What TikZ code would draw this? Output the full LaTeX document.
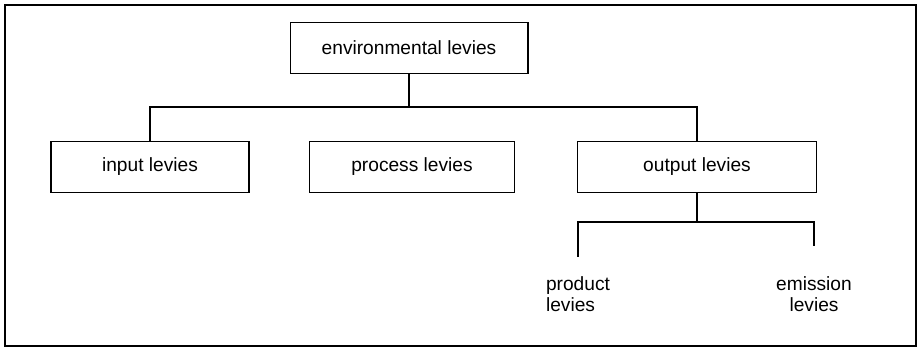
\documentclass[tikz,border=0pt]{standalone}
\usepackage{fontspec}
\setmainfont{Liberation Sans}
\usetikzlibrary{positioning}
\tikzset{
	levybox/.style = {rectangle, draw=black, line width=0.6pt, minimum height=1.03cm, text centered, font=\fontsize{10.9}{12}\selectfont},
	levytext/.style = {font=\fontsize{10.9}{12}\selectfont, inner sep=1pt},
	line/.style = {draw, line width=0.6pt}
}

\begin{document}
\begin{tikzpicture}[x=0.02cm, y=-0.02cm]
		\useasboundingbox (0,0) rectangle (919,348);
		\draw[line width=0.8pt] (5,5) rectangle (916,346);

		%boxes
		\node (env) [levybox, minimum width=4.76cm] at (409,48) {environmental levies};
		\node (input) [levybox, minimum width=3.96cm] at (150,167) {input levies};
		\node (process) [levybox, minimum width=4.1cm] at (412,167) {process levies};
		\node (output) [levybox, minimum width=4.78cm] at (697,167) {output levies};
		\node (product) [levytext, align=left] at (578,294) {product\\levies};
		\node (emission) [levytext, align=center] at (814,294) {emission\\levies};

		\coordinate (bar) at (409,107);
		\coordinate (subbar) at (697,222);

		%connectors
		\path [line](env) -- (bar);
		\path [line](input.north) |- (bar) -| (output.north);
		\path [line](output) -- (subbar);
		\path [line, shorten >=10pt](subbar) -| (product.north);
		\path [line, shorten >=16pt](subbar) -| (emission.north);
		\end{tikzpicture}
\end{document}
